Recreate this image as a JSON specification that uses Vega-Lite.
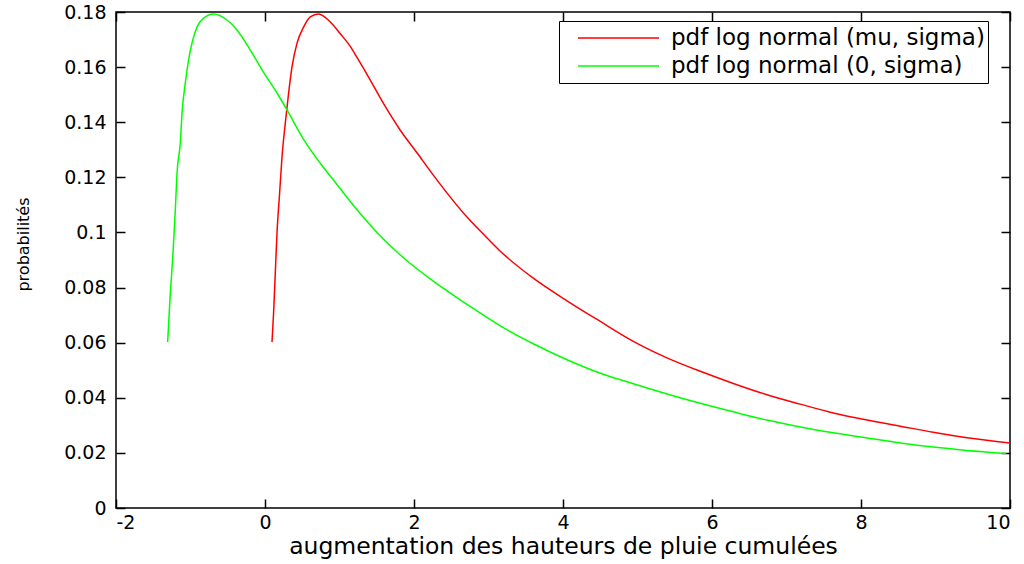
{
  "$schema": "https://vega.github.io/schema/vega-lite/v6.json",
  "width": 894,
  "height": 496,
  "autosize": "none",
  "padding": {"left": 116, "top": 12, "right": 14, "bottom": 56},
  "background": "white",
  "config": {
    "view": {"stroke": "black", "strokeWidth": 1.5},
    "axis": {
      "grid": false,
      "domain": false,
      "zindex": 1,
      "tickColor": "black",
      "tickWidth": 1.5,
      "labelFont": "DejaVu Sans",
      "labelFontSize": 19,
      "labelColor": "black",
      "labelExpr": "'' + datum.value",
      "titleFont": "DejaVu Sans",
      "titleColor": "black",
      "titleFontWeight": "normal"
    }
  },
  "data": {
    "values": [
      {"series": "pdf log normal (mu, sigma)", "x": 0.094, "p": 0.0602},
      {"series": "pdf log normal (mu, sigma)", "x": 0.115, "p": 0.0707},
      {"series": "pdf log normal (mu, sigma)", "x": 0.138, "p": 0.0852},
      {"series": "pdf log normal (mu, sigma)", "x": 0.161, "p": 0.0997},
      {"series": "pdf log normal (mu, sigma)", "x": 0.196, "p": 0.1142},
      {"series": "pdf log normal (mu, sigma)", "x": 0.228, "p": 0.1273},
      {"series": "pdf log normal (mu, sigma)", "x": 0.272, "p": 0.1396},
      {"series": "pdf log normal (mu, sigma)", "x": 0.317, "p": 0.1506},
      {"series": "pdf log normal (mu, sigma)", "x": 0.362, "p": 0.16},
      {"series": "pdf log normal (mu, sigma)", "x": 0.43, "p": 0.1687},
      {"series": "pdf log normal (mu, sigma)", "x": 0.518, "p": 0.1745},
      {"series": "pdf log normal (mu, sigma)", "x": 0.608, "p": 0.1782},
      {"series": "pdf log normal (mu, sigma)", "x": 0.719, "p": 0.1793},
      {"series": "pdf log normal (mu, sigma)", "x": 0.877, "p": 0.1764},
      {"series": "pdf log normal (mu, sigma)", "x": 1.011, "p": 0.1721},
      {"series": "pdf log normal (mu, sigma)", "x": 1.145, "p": 0.1675},
      {"series": "pdf log normal (mu, sigma)", "x": 1.235, "p": 0.1635},
      {"series": "pdf log normal (mu, sigma)", "x": 1.413, "p": 0.1553},
      {"series": "pdf log normal (mu, sigma)", "x": 1.588, "p": 0.1469},
      {"series": "pdf log normal (mu, sigma)", "x": 1.816, "p": 0.1371},
      {"series": "pdf log normal (mu, sigma)", "x": 2.04, "p": 0.1289},
      {"series": "pdf log normal (mu, sigma)", "x": 2.259, "p": 0.1208},
      {"series": "pdf log normal (mu, sigma)", "x": 2.711, "p": 0.1056},
      {"series": "pdf log normal (mu, sigma)", "x": 2.93, "p": 0.0994},
      {"series": "pdf log normal (mu, sigma)", "x": 3.158, "p": 0.0932},
      {"series": "pdf log normal (mu, sigma)", "x": 3.601, "p": 0.0834},
      {"series": "pdf log normal (mu, sigma)", "x": 4.054, "p": 0.0752},
      {"series": "pdf log normal (mu, sigma)", "x": 4.501, "p": 0.0677},
      {"series": "pdf log normal (mu, sigma)", "x": 4.944, "p": 0.0605},
      {"series": "pdf log normal (mu, sigma)", "x": 5.396, "p": 0.0545},
      {"series": "pdf log normal (mu, sigma)", "x": 5.843, "p": 0.0496},
      {"series": "pdf log normal (mu, sigma)", "x": 6.286, "p": 0.0452},
      {"series": "pdf log normal (mu, sigma)", "x": 6.738, "p": 0.0411},
      {"series": "pdf log normal (mu, sigma)", "x": 7.185, "p": 0.0377},
      {"series": "pdf log normal (mu, sigma)", "x": 7.628, "p": 0.0345},
      {"series": "pdf log normal (mu, sigma)", "x": 8.081, "p": 0.0319},
      {"series": "pdf log normal (mu, sigma)", "x": 8.528, "p": 0.0297},
      {"series": "pdf log normal (mu, sigma)", "x": 8.97, "p": 0.0275},
      {"series": "pdf log normal (mu, sigma)", "x": 9.423, "p": 0.0255},
      {"series": "pdf log normal (mu, sigma)", "x": 10.0, "p": 0.0236},
      {"series": "pdf log normal (0, sigma)", "x": -1.307, "p": 0.0602},
      {"series": "pdf log normal (0, sigma)", "x": -1.271, "p": 0.0779},
      {"series": "pdf log normal (0, sigma)", "x": -1.235, "p": 0.0924},
      {"series": "pdf log normal (0, sigma)", "x": -1.204, "p": 0.1081},
      {"series": "pdf log normal (0, sigma)", "x": -1.181, "p": 0.1215},
      {"series": "pdf log normal (0, sigma)", "x": -1.137, "p": 0.1324},
      {"series": "pdf log normal (0, sigma)", "x": -1.114, "p": 0.1433},
      {"series": "pdf log normal (0, sigma)", "x": -1.07, "p": 0.1542},
      {"series": "pdf log normal (0, sigma)", "x": -1.026, "p": 0.1626},
      {"series": "pdf log normal (0, sigma)", "x": -0.98, "p": 0.1687},
      {"series": "pdf log normal (0, sigma)", "x": -0.913, "p": 0.1745},
      {"series": "pdf log normal (0, sigma)", "x": -0.824, "p": 0.1778},
      {"series": "pdf log normal (0, sigma)", "x": -0.69, "p": 0.1793},
      {"series": "pdf log normal (0, sigma)", "x": -0.51, "p": 0.1771},
      {"series": "pdf log normal (0, sigma)", "x": -0.376, "p": 0.1735},
      {"series": "pdf log normal (0, sigma)", "x": -0.197, "p": 0.1662},
      {"series": "pdf log normal (0, sigma)", "x": -0.019, "p": 0.1581},
      {"series": "pdf log normal (0, sigma)", "x": 0.161, "p": 0.1506},
      {"series": "pdf log normal (0, sigma)", "x": 0.295, "p": 0.1445},
      {"series": "pdf log normal (0, sigma)", "x": 0.518, "p": 0.1338},
      {"series": "pdf log normal (0, sigma)", "x": 0.742, "p": 0.1251},
      {"series": "pdf log normal (0, sigma)", "x": 0.966, "p": 0.1174},
      {"series": "pdf log normal (0, sigma)", "x": 1.145, "p": 0.1112},
      {"series": "pdf log normal (0, sigma)", "x": 1.503, "p": 0.1},
      {"series": "pdf log normal (0, sigma)", "x": 1.816, "p": 0.0918},
      {"series": "pdf log normal (0, sigma)", "x": 2.259, "p": 0.0823},
      {"series": "pdf log normal (0, sigma)", "x": 2.711, "p": 0.0739},
      {"series": "pdf log normal (0, sigma)", "x": 3.158, "p": 0.0661},
      {"series": "pdf log normal (0, sigma)", "x": 3.601, "p": 0.0596},
      {"series": "pdf log normal (0, sigma)", "x": 4.054, "p": 0.0538},
      {"series": "pdf log normal (0, sigma)", "x": 4.501, "p": 0.0489},
      {"series": "pdf log normal (0, sigma)", "x": 4.944, "p": 0.0451},
      {"series": "pdf log normal (0, sigma)", "x": 5.396, "p": 0.0414},
      {"series": "pdf log normal (0, sigma)", "x": 5.843, "p": 0.038},
      {"series": "pdf log normal (0, sigma)", "x": 6.286, "p": 0.0349},
      {"series": "pdf log normal (0, sigma)", "x": 6.738, "p": 0.0319},
      {"series": "pdf log normal (0, sigma)", "x": 7.185, "p": 0.0294},
      {"series": "pdf log normal (0, sigma)", "x": 7.628, "p": 0.0273},
      {"series": "pdf log normal (0, sigma)", "x": 8.081, "p": 0.0254},
      {"series": "pdf log normal (0, sigma)", "x": 8.528, "p": 0.0236},
      {"series": "pdf log normal (0, sigma)", "x": 8.97, "p": 0.0221},
      {"series": "pdf log normal (0, sigma)", "x": 9.423, "p": 0.0209},
      {"series": "pdf log normal (0, sigma)", "x": 9.95, "p": 0.0198}
    ]
  },
  "layer": [
    {
      "mark": {"type": "line", "strokeWidth": 1.5, "interpolate": "monotone"},
      "encoding": {
        "x": {
          "field": "x", "type": "quantitative",
          "scale": {"domain": [-2, 10], "nice": false, "zero": false},
          "axis": {
            "orient": "bottom", "values": [-2, 0, 2, 4, 6, 8, 10],
            "ticks": true, "tickSize": -9,
            "labelPadding": 14,
            "title": "augmentation des hauteurs de pluie cumulées",
            "titleFontSize": 23.5, "titlePadding": 2
          }
        },
        "y": {
          "field": "p", "type": "quantitative",
          "scale": {"domain": [0, 0.18], "nice": false},
          "axis": {
            "orient": "left", "values": [0, 0.02, 0.04, 0.06, 0.08, 0.1, 0.12, 0.14, 0.16, 0.18],
            "ticks": true, "tickSize": -9,
            "labelPadding": 19,
            "title": "probabilités", "titleFontSize": 16,
            "titleX": -88, "titleY": 232, "titleAngle": -90, "titleBaseline": "alphabetic", "titleAlign": "center"
          }
        },
        "color": {
          "field": "series", "type": "nominal",
          "scale": {"domain": ["pdf log normal (mu, sigma)", "pdf log normal (0, sigma)"], "range": ["#ff0000", "#00ff00"]},
          "legend": {
            "orient": "none", "legendX": 443, "legendY": 9,
            "title": null, "direction": "vertical",
            "symbolType": "stroke", "symbolSize": 6561, "symbolStrokeWidth": 1.5,
            "clipHeight": 28, "rowPadding": 0, "padding": 3, "symbolOffset": 15,
            "labelOffset": 11, "labelFont": "DejaVu Sans", "labelFontSize": 23, "labelColor": "black", "labelLimit": 0,
            "strokeColor": "black", "fillColor": "white"
          }
        }
      }
    },
    {
      "mark": {"type": "line", "opacity": 0},
      "encoding": {
        "x": {
          "field": "x", "type": "quantitative",
          "axis": {"orient": "top", "values": [-2, 0, 2, 4, 6, 8, 10], "labels": false, "title": null,
                   "ticks": true, "tickSize": -9}
        },
        "y": {
          "field": "p", "type": "quantitative",
          "axis": {"orient": "right", "values": [0, 0.02, 0.04, 0.06, 0.08, 0.1, 0.12, 0.14, 0.16, 0.18], "labels": false, "title": null,
                   "ticks": true, "tickSize": -9}
        },
        "detail": {"field": "series"}
      }
    }
  ],
  "resolve": {"axis": {"x": "independent", "y": "independent"}}
}
